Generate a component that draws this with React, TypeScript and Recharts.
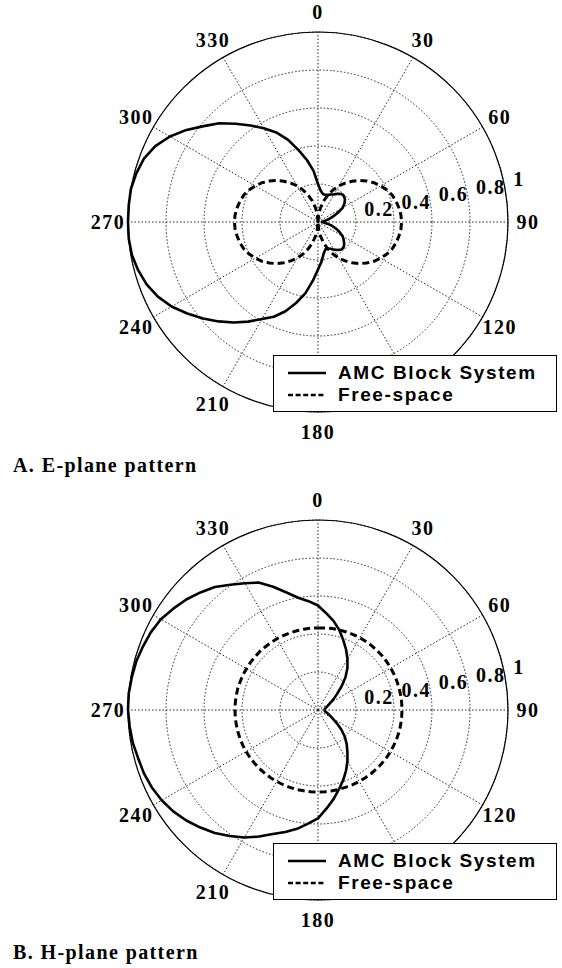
import { RadarChart, Radar, PolarGrid, PolarAngleAxis, PolarRadiusAxis, Legend } from 'recharts'

// sample angles (deg, clockwise from top)
const angles = [
  0, 5, 10, 15, 20, 25, 30, 35, 40, 45, 50, 55, 60, 65, 70, 75, 80, 85,
  90, 95, 100, 105, 110, 115, 120, 125, 130, 135, 140, 145, 150, 155, 160, 165, 170, 175,
  180, 185, 190, 195, 200, 205, 210, 215, 220, 225, 230, 235, 240, 245, 250, 255, 260, 265,
  270, 275, 280, 285, 290, 295, 300, 305, 310, 315, 320, 325, 330, 335, 340, 345, 350, 355,
]

// A. E-plane
const eAmc = [
  0.2, 0.165, 0.15, 0.148, 0.152, 0.16, 0.168, 0.182, 0.192, 0.193, 0.185, 0.17, 0.15, 0.115, 0.085, 0.06, 0.04, 0.025,
  0.02, 0.03, 0.05, 0.075, 0.1, 0.125, 0.15, 0.165, 0.18, 0.19, 0.19, 0.18, 0.168, 0.155, 0.148, 0.15, 0.17, 0.21,
  0.25, 0.31, 0.38, 0.44, 0.5, 0.55, 0.59, 0.64, 0.69, 0.74, 0.79, 0.84, 0.89, 0.93, 0.96, 0.98, 0.995, 1,
  1, 1, 1, 0.99, 0.975, 0.945, 0.9, 0.845, 0.785, 0.735, 0.675, 0.62, 0.57, 0.52, 0.46, 0.39, 0.33, 0.27,
]
const eFree = [
  0, 0.04, 0.075, 0.115, 0.15, 0.185, 0.22, 0.25, 0.28, 0.31, 0.335, 0.36, 0.38, 0.4, 0.415, 0.425, 0.432, 0.438,
  0.44, 0.438, 0.432, 0.425, 0.415, 0.4, 0.38, 0.36, 0.335, 0.31, 0.28, 0.25, 0.22, 0.185, 0.15, 0.115, 0.075, 0.04,
  0, 0.04, 0.075, 0.115, 0.15, 0.185, 0.22, 0.25, 0.28, 0.31, 0.335, 0.36, 0.38, 0.4, 0.415, 0.425, 0.432, 0.438,
  0.44, 0.438, 0.432, 0.425, 0.415, 0.4, 0.38, 0.36, 0.335, 0.31, 0.28, 0.25, 0.22, 0.185, 0.15, 0.115, 0.075, 0.04,
]

// B. H-plane
const hAmc = [
  0.55, 0.51, 0.475, 0.435, 0.39, 0.35, 0.31, 0.27, 0.225, 0.175, 0.13, 0.1, 0.075, 0.06, 0.05, 0.042, 0.037, 0.035,
  0.035, 0.035, 0.037, 0.045, 0.055, 0.07, 0.09, 0.12, 0.16, 0.2, 0.235, 0.27, 0.31, 0.35, 0.39, 0.43, 0.475, 0.52,
  0.57, 0.6, 0.635, 0.665, 0.695, 0.735, 0.775, 0.81, 0.845, 0.875, 0.905, 0.93, 0.95, 0.965, 0.975, 0.98, 0.99, 0.995,
  1, 1, 0.995, 0.99, 0.98, 0.97, 0.955, 0.93, 0.905, 0.875, 0.845, 0.805, 0.77, 0.74, 0.69, 0.64, 0.6, 0.575,
]
const hFree = [
  0.432, 0.433, 0.435, 0.436, 0.437, 0.438, 0.44, 0.44, 0.441, 0.441, 0.442, 0.442, 0.442, 0.442, 0.442, 0.442, 0.442, 0.442,
  0.442, 0.442, 0.442, 0.442, 0.441, 0.44, 0.44, 0.439, 0.438, 0.437, 0.436, 0.435, 0.434, 0.433, 0.432, 0.432, 0.432, 0.432,
  0.432, 0.432, 0.432, 0.433, 0.433, 0.434, 0.434, 0.435, 0.435, 0.436, 0.436, 0.437, 0.437, 0.437, 0.437, 0.437, 0.437, 0.437,
  0.437, 0.437, 0.437, 0.437, 0.436, 0.436, 0.435, 0.435, 0.434, 0.434, 0.433, 0.433, 0.433, 0.432, 0.432, 0.432, 0.432, 0.432,
]

const angleTicks = [0, 30, 60, 90, 120, 150, 180, 210, 240, 270, 300, 330]
// the 150 label sits under the legend box in the original, so it is not drawn
const hiddenAngleLabels = [150]
const radiusTicks = [0.2, 0.4, 0.6, 0.8, 1]
const amcName = 'AMC Block System'
const freeName = 'Free-space'

const ePlaneData = angles.map((angle, i) => ({ angle, amc: eAmc[i], free: eFree[i] }))
const hPlaneData = angles.map((angle, i) => ({ angle, amc: hAmc[i], free: hFree[i] }))

const serifBold = {
  fontFamily: '"Liberation Serif", "Times New Roman", serif',
  fontWeight: 'bold' as const,
  fontSize: 20,
  letterSpacing: 1.5,
}

function AngleTick(props: any) {
  const { x, y, payload } = props
  if (hiddenAngleLabels.includes(payload.value)) return <g />
  return (
    <text x={x} y={y} textAnchor="middle" dominantBaseline="central" fill="#000" style={serifBold}>
      {payload.value}
    </text>
  )
}

function RadiusTick(props: any) {
  const { x, y, payload } = props
  return (
    <text x={x + 9} y={y + 2} textAnchor="start" fill="#000" style={serifBold}>
      {payload.value}
    </text>
  )
}

function LegendBox(props: any) {
  const items = props.payload ?? []
  return (
    <div
      style={{
        border: '1.5px solid #000',
        background: '#fff',
        width: 284,
        height: 57,
        boxSizing: 'border-box',
        padding: '6px 0 0 13px',
        fontFamily: '"Liberation Sans", Arial, sans-serif',
        fontWeight: 'bold',
        fontSize: 19,
        letterSpacing: 1.6,
        color: '#000',
      }}
    >
      {items.map((item: any) => (
        <div key={item.value} style={{ display: 'flex', alignItems: 'center', height: 22 }}>
          <svg width={40} height={10}>
            <line
              x1={1}
              y1={5}
              x2={39}
              y2={5}
              stroke="#000"
              strokeWidth={2.5}
              strokeDasharray={item.dataKey === 'free' ? '5 2.6' : undefined}
            />
          </svg>
          <span style={{ marginLeft: 11, lineHeight: '22px' }}>{item.value}</span>
        </div>
      ))}
    </div>
  )
}

function PolarPattern({ data, top }: { data: any[]; top: number }) {
  return (
    <div style={{ position: 'absolute', left: 0, top }}>
      <RadarChart
        width={562}
        height={445}
        data={data}
        cx={318}
        cy={222}
        outerRadius={190}
        margin={{ top: 0, right: 0, bottom: 0, left: 0 }}
      >
        <PolarGrid gridType="circle" stroke="#222" strokeDasharray="1.5 2" />
        <PolarAngleAxis
          dataKey="angle"
          type="number"
          domain={[0, 360]}
          ticks={angleTicks}
          tickLine={false}
          tickSize={20}
          axisLineType="circle"
          axisLine={{ stroke: '#000', strokeWidth: 1.2 }}
          tick={AngleTick}
        />
        <PolarRadiusAxis
          angle={11.5}
          type="number"
          domain={[0, 1]}
          ticks={radiusTicks}
          axisLine={false}
          tickLine={false}
          tick={RadiusTick}
        />
        <Radar
          name={amcName}
          dataKey="amc"
          stroke="#000"
          strokeWidth={2.6}
          strokeLinejoin="round"
          fill="none"
          fillOpacity={0}
          dot={false}
          isAnimationActive={false}
        />
        <Radar
          name={freeName}
          dataKey="free"
          stroke="#000"
          strokeWidth={3}
          strokeDasharray="7 4"
          fill="none"
          fillOpacity={0}
          dot={false}
          isAnimationActive={false}
        />
        <Legend
          content={(p: any) => <LegendBox {...p} />}
          wrapperStyle={{ left: 273, top: 355, bottom: 'auto', width: 284 }}
        />
      </RadarChart>
    </div>
  )
}

const captionStyle = (top: number) => ({
  position: 'absolute' as const,
  left: 13,
  top,
  lineHeight: '20px',
  fontFamily: '"Liberation Serif", "Times New Roman", serif',
  fontWeight: 'bold' as const,
  fontSize: 20,
  letterSpacing: 1.4,
  color: '#000',
  whiteSpace: 'nowrap' as const,
})

export default function App() {
  return (
    <div style={{ position: 'absolute', left: 0, top: 0, width: 562, height: 968, background: '#fff' }}>
      <PolarPattern data={ePlaneData} top={0} />
      <div style={captionStyle(455)}>A. E-plane pattern</div>
      <PolarPattern data={hPlaneData} top={488} />
      <div style={captionStyle(942)}>B. H-plane pattern</div>
    </div>
  )
}
